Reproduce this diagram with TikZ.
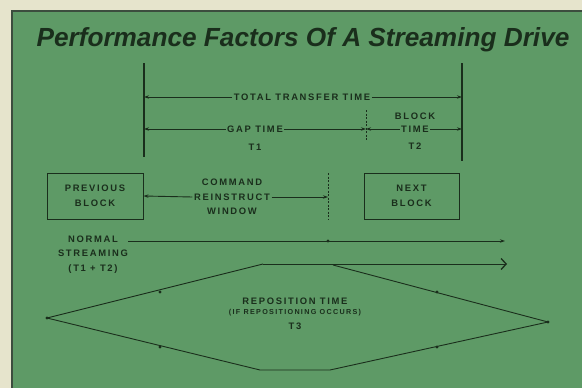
\documentclass[tikz,border=0pt]{standalone}
\usepackage{fontspec}
\setmainfont{Liberation Sans}
\newfontfamily\lblfont{Liberation Sans}[LetterSpace=18]
\newfontfamily\ttlfont{Liberation Sans}
\usetikzlibrary{arrows.meta}
\definecolor{panel}{HTML}{5E9A66}
\definecolor{paper}{HTML}{E6E4CC}
\definecolor{ink}{HTML}{1A2E1C}
\tikzset{
  lbl/.style={font=\lblfont\bfseries\fontsize{9.4}{14.5}\selectfont, text=ink, align=center, inner sep=1.5pt},
  small/.style={font=\lblfont\bfseries\fontsize{7.2}{10}\selectfont, text=ink, align=center, inner sep=1pt},
  thin/.style={draw=ink, line width=0.9pt},
  heavy/.style={draw=ink, line width=1.7pt},
  dashv/.style={draw=ink, line width=0.6pt, dash pattern=on 2pt off 1.5pt},
  arr/.style={thin, -{Stealth[length=5pt,width=3.4pt]}},
  chev/.style={thin, -{Straight Barb[length=5pt,width=11pt,line width=1.3pt]}},
  blockbox/.style={draw=ink, line width=0.9pt, minimum width=96pt, minimum height=46pt, inner sep=0pt},
  dot/.style={circle, fill=ink, inner sep=0pt, minimum size=3.2pt}
}
\begin{document}
\begin{tikzpicture}[x=1pt,y=-1pt]
\useasboundingbox (0,0) rectangle (582,388);
\fill[paper] (0,0) rectangle (582,388);
\begin{scope}
\clip (0,0) rectangle (582,388);
\filldraw[fill=panel, draw=ink!85, line width=1.8pt] (12,11) rectangle (600,400);
\end{scope}
% title
\node (title) at (303,40) {\ttlfont\bfseries\itshape\fontsize{26.2}{30}\selectfont\color{ink}Performance Factors Of A Streaming Drive};
% verticals
\coordinate (vlT) at (144,63); \coordinate (vlB) at (144,157);
\coordinate (vrT) at (462,63); \coordinate (vrB) at (462,161);
\coordinate (vmT) at (366,110); \coordinate (vmB) at (366,140);
\draw[heavy] (vlT) -- (vlB);
\draw[heavy] (vrT) -- (vrB);
\draw[dashv] (vmT) -- (vmB);
% total transfer time
\node[lbl] (ttt) at (302,97) {TOTAL TRANSFER TIME};
\coordinate (ttL) at (144,97); \coordinate (ttR) at (462,97);
\draw[arr] (ttt.west) -- (ttL);
\draw[arr] (ttt.east) -- (ttR);
% gap time
\node[lbl] (gap) at (255,129) {GAP TIME};
\node[lbl] (t1) at (255,147) {T1};
\coordinate (gL) at (144,129); \coordinate (gM) at (366,129); \coordinate (gR) at (462,129);
\draw[arr] (gap.west) -- (gL);
\draw[arr] (gap.east) -- (gM);
% block time
\node[lbl] (blk) at (415,116) {BLOCK};
\node[lbl] (btime) at (415,129) {TIME};
\node[lbl] (t2) at (415,146) {T2};
\draw[arr] (btime.west) -- (gM);
\draw[arr] (btime.east) -- (gR);
% blocks
\node[blockbox, lbl] (prev) at (95,196) {PREVIOUS\\BLOCK};
\node[blockbox, lbl, minimum width=95pt] (next) at (411.5,196) {NEXT\\BLOCK};
\node[lbl] (cmd) at (232,197) {COMMAND\\REINSTRUCT\\WINDOW};
\coordinate (cwT) at (328,173); \coordinate (cwB) at (328,220); \coordinate (cwM) at (328,197);
\draw[dashv] (cwT) -- (cwB);
\draw[arr] (cmd.west) -- (prev.east);
\draw[arr] (cmd.east) -- (cwM);
% normal streaming
\node[lbl] (ns) at (93,254.5) {NORMAL\\STREAMING\\(T1 + T2)};
\coordinate (nsS) at (128,241); \coordinate (nsE) at (505,241);
\draw[arr] (nsS) -- (nsE);
\node[dot] (nsd) at (328,241) {};
% reposition hexagon
\coordinate (hL) at (47,318); \coordinate (hUL) at (263,264); \coordinate (hTE) at (507,264);
\coordinate (hB) at (333,265); \coordinate (hR) at (548,322);
\coordinate (hBR) at (330,370); \coordinate (hBL) at (260,370);
\draw[thin] (hL) -- (hUL);
\draw[chev] (hUL) -- (hTE);
\draw[thin] (hB) -- (hR);
\draw[thin] (hL) -- (hBL) -- (hBR) -- (hR);
\node[dot] (d1) at (hL) {};
\node[dot] (d2) at (hR) {};
\node[dot] (d3) at (160,292) {};
\node[dot] (d4) at (160,347) {};
\node[dot] (d5) at (437,292) {};
\node[dot] (d6) at (437,347) {};
\node[lbl] (rep) at (295,301) {REPOSITION TIME};
\node[small] (ifr) at (295,313) {(IF REPOSITIONING OCCURS)};
\node[lbl] (t3) at (295,326) {T3};
\end{tikzpicture}
\end{document}
